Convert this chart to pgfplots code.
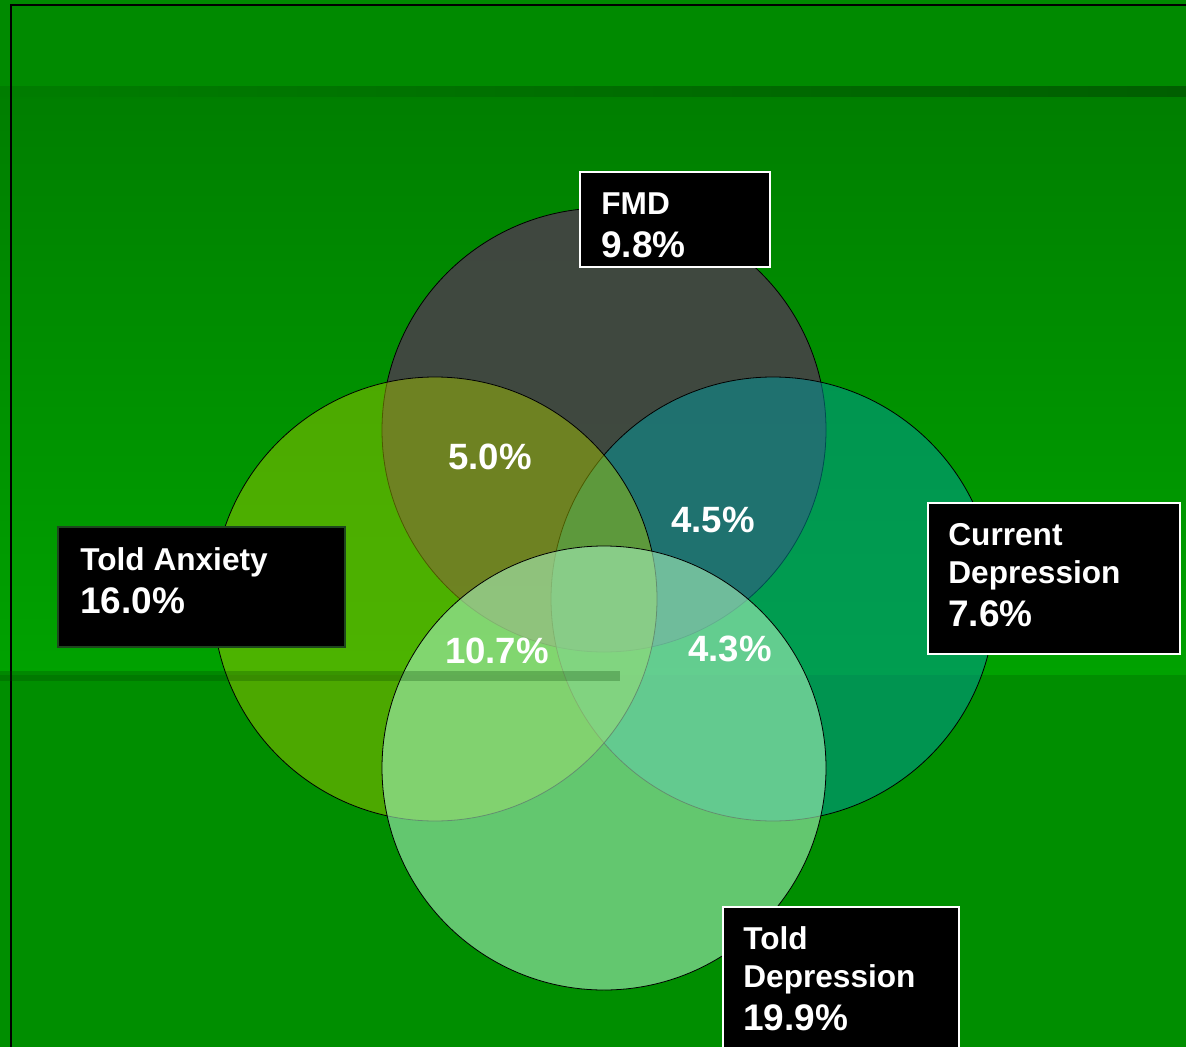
\documentclass[border=0pt]{standalone}
\usepackage{pgfplots}
\pgfplotsset{compat=1.18}
\usepackage{fontspec}
\setmainfont{Liberation Sans}
\definecolor{bgtop}{RGB}{0,138,0}
\definecolor{bgA}{RGB}{0,126,0}
\definecolor{bgB}{RGB}{0,162,0}
\definecolor{bgC}{RGB}{0,142,0}
\definecolor{bandL}{RGB}{0,125,0}
\definecolor{bandR}{RGB}{0,95,0}
\definecolor{fmd}{RGB}{70,65,70}
\definecolor{cdep}{RGB}{0,155,160}
\definecolor{anx}{RGB}{169,201,0}
\definecolor{tdep}{RGB}{165,238,185}
\definecolor{anxborder}{RGB}{30,70,30}
\definecolor{lowband}{RGB}{0,60,0}
\begin{document}
\begin{tikzpicture}
\begin{axis}[width=593pt,height=523.5pt,scale only axis,
  xmin=0,xmax=1186,ymin=0,ymax=1047,y dir=reverse,hide axis,clip=true,
  clip marker paths=true]
% background
\addplot[draw=none,fill=bgtop] coordinates {(0,0)(1186,0)(1186,90)(0,90)} --cycle;
\addplot[draw=none,top color=bgA,bottom color=bgB] coordinates {(0,90)(1186,90)(1186,675)(0,675)} --cycle;
\addplot[draw=none,fill=bgC] coordinates {(0,675)(1186,675)(1186,1047)(0,1047)} --cycle;
\addplot[draw=none,left color=bandL,right color=bandR] coordinates {(0,87)(1186,87)(1186,97)(0,97)} --cycle;
% frame lines
\addplot[black,line width=1pt] coordinates {(10.5,1047)(10.5,5.5)(1186,5.5)};
% circles
\addplot[only marks,mark=*,mark size=111pt,mark options={fill=fmd,fill opacity=0.9,draw=black,line width=0.4pt}] coordinates {(604,430)};
\addplot[only marks,mark=*,mark size=111pt,mark options={fill=cdep,fill opacity=0.5,draw=black,line width=0.4pt}] coordinates {(773,599)};
\addplot[only marks,mark=*,mark size=111pt,mark options={fill=anx,fill opacity=0.45,draw=black,line width=0.4pt}] coordinates {(435,599)};
\addplot[only marks,mark=*,mark size=111pt,mark options={fill=tdep,fill opacity=0.6,draw=black,line width=0.4pt}] coordinates {(604,768)};
% lower band over circles
\addplot[draw=none,fill=lowband,fill opacity=0.25] coordinates {(0,671)(620,671)(620,681)(0,681)} --cycle;
% boxes
\addplot[fill=black,draw=white,line width=1pt] coordinates {(580,172)(770,172)(770,267)(580,267)} --cycle;
\addplot[fill=black,draw=anxborder,line width=0.6pt] coordinates {(58,527)(345,527)(345,647)(58,647)} --cycle;
\addplot[fill=black,draw=white,line width=1pt] coordinates {(928,503)(1180,503)(1180,654)(928,654)} --cycle;
\addplot[fill=black,draw=white,line width=1pt] coordinates {(723,907)(959,907)(959,1060)(723,1060)} --cycle;
% box texts
\begin{scope}[every node/.style={anchor=base west,text=white,inner sep=0pt,font=\fontsize{15.8}{19}\selectfont\bfseries}]
\node at (axis cs:601,215) {FMD};
\node at (axis cs:80,570) {Told Anxiety};
\node at (axis cs:948,545) {Current};
\node at (axis cs:948,583) {Depression};
\node at (axis cs:743,949) {Told};
\node at (axis cs:743,987) {Depression};
\end{scope}
\begin{scope}[every node/.style={anchor=base west,text=white,inner sep=0pt,font=\fontsize{18.5}{22}\selectfont\bfseries}]
\node at (axis cs:601,258) {9.8\%};
\node at (axis cs:80,613) {16.0\%};
\node at (axis cs:948,626) {7.6\%};
\node at (axis cs:743,1030) {19.9\%};
\end{scope}
% overlap labels
\begin{scope}[every node/.style={anchor=center,text=white,inner sep=0pt,font=\fontsize{18.3}{22}\selectfont\bfseries}]
\node at (axis cs:490,457) {5.0\%};
\node at (axis cs:713,520) {4.5\%};
\node at (axis cs:497,651) {10.7\%};
\node at (axis cs:730,649) {4.3\%};
\end{scope}
\end{axis}
\end{tikzpicture}
\end{document}
